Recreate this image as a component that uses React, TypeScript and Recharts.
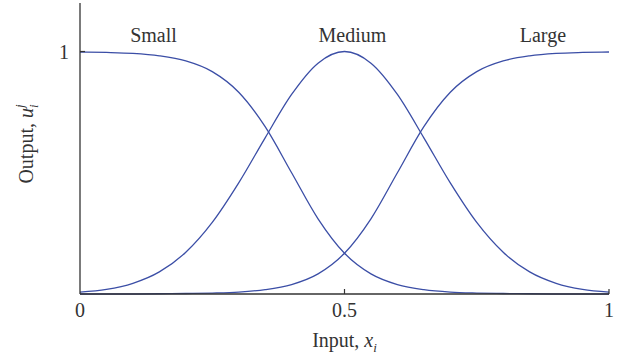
import { LineChart, Line, XAxis, YAxis, ReferenceDot, Label } from "recharts";

const inputs = [0, 0.05, 0.1, 0.15, 0.2, 0.25, 0.3, 0.35, 0.4, 0.45, 0.5, 0.55, 0.6, 0.65, 0.7, 0.75, 0.8, 0.85, 0.9, 0.95, 1];
const small = [0.998, 0.996, 0.992, 0.982, 0.961, 0.917, 0.832, 0.69, 0.5, 0.31, 0.168, 0.083, 0.039, 0.018, 0.008, 0.004, 0.002, 0.001, 0, 0, 0];
const medium = [0.008, 0.019, 0.044, 0.091, 0.172, 0.295, 0.458, 0.644, 0.823, 0.952, 1, 0.952, 0.823, 0.644, 0.458, 0.295, 0.172, 0.091, 0.044, 0.019, 0.008];
const large = [0, 0, 0, 0.001, 0.002, 0.004, 0.008, 0.018, 0.039, 0.083, 0.168, 0.31, 0.5, 0.69, 0.832, 0.917, 0.961, 0.982, 0.992, 0.996, 0.998];

const xTicks = [0, 0.5, 1];
const yTicks = [1];
const setNames = ["Small", "Medium", "Large"];

const data = inputs.map((x, i) => ({ x, small: small[i], medium: medium[i], large: large[i] }));

const FONT = "'Liberation Serif', 'Times New Roman', serif";
const INK = "#333";
const BLUE = "#3b4ea6";

function XTick({ x, y, payload }: any) {
  return (
    <g>
      {payload.value !== 0 && <line x1={x} y1={y} x2={x} y2={y - 5} stroke={INK} strokeWidth={1.2} />}
      <text x={x} y={y + 23} textAnchor="middle" fontFamily={FONT} fontSize={20} fill={INK}>
        {payload.value}
      </text>
    </g>
  );
}

function YTick({ x, y, payload }: any) {
  return (
    <g>
      <line x1={x} y1={y} x2={x + 5} y2={y} stroke={INK} strokeWidth={1.2} />
      <text x={x - 11} y={y + 7} textAnchor="end" fontFamily={FONT} fontSize={20} fill={INK}>
        {payload.value}
      </text>
    </g>
  );
}

function XTitle({ viewBox }: any) {
  const cx = viewBox.x + viewBox.width / 2;
  return (
    <text x={cx} y={347} textAnchor="middle" fontFamily={FONT} fontSize={20} fill={INK}>
      Input,{" "}
      <tspan fontStyle="italic">x</tspan>
      <tspan fontStyle="italic" fontSize={13} dy={5}>i</tspan>
    </text>
  );
}

function YTitle() {
  return (
    <text
      x={0}
      y={0}
      transform="translate(33, 144) rotate(-90)"
      textAnchor="middle"
      fontFamily={FONT}
      fontSize={20}
      fill={INK}
    >
      Output,{" "}
      <tspan fontStyle="italic">u</tspan>
      <tspan fontStyle="italic" fontSize={13} dy={5}>i</tspan>
      <tspan fontStyle="italic" fontSize={13} dx={-3.6} dy={-14}>j</tspan>
    </text>
  );
}

const labelX = [0.139, 0.515, 0.875];

export default function App() {
  return (
    <div style={{ position: "absolute", left: 0, top: 0, background: "#fff" }}>
      <LineChart width={624} height={358} data={data} margin={{ top: 3, right: 15, bottom: 0, left: 0 }}>
        <XAxis
          dataKey="x"
          type="number"
          domain={[0, 1]}
          ticks={xTicks}
          tickSize={0}
          tickMargin={0}
          tick={<XTick />}
          height={64}
          stroke={INK}
          strokeWidth={1.3}
        >
          <Label content={<XTitle />} />
        </XAxis>
        <YAxis
          type="number"
          domain={[0, 1.2]}
          ticks={yTicks}
          tickSize={0}
          tickMargin={0}
          tick={<YTick />}
          width={80}
          stroke={INK}
          strokeWidth={1.3}
        >
          <Label content={<YTitle />} />
        </YAxis>
        <Line dataKey="small" type="monotone" stroke={BLUE} strokeWidth={1.3} dot={false} isAnimationActive={false} />
        <Line dataKey="medium" type="monotone" stroke={BLUE} strokeWidth={1.3} dot={false} isAnimationActive={false} />
        <Line dataKey="large" type="monotone" stroke={BLUE} strokeWidth={1.3} dot={false} isAnimationActive={false} />
        {setNames.map((name, i) => (
          <ReferenceDot key={name} x={labelX[i]} y={1.07} r={0} fill="none" stroke="none" ifOverflow="visible">
            <Label value={name} position="center" fontFamily={FONT} fontSize={20} fill={INK} />
          </ReferenceDot>
        ))}
      </LineChart>
    </div>
  );
}
